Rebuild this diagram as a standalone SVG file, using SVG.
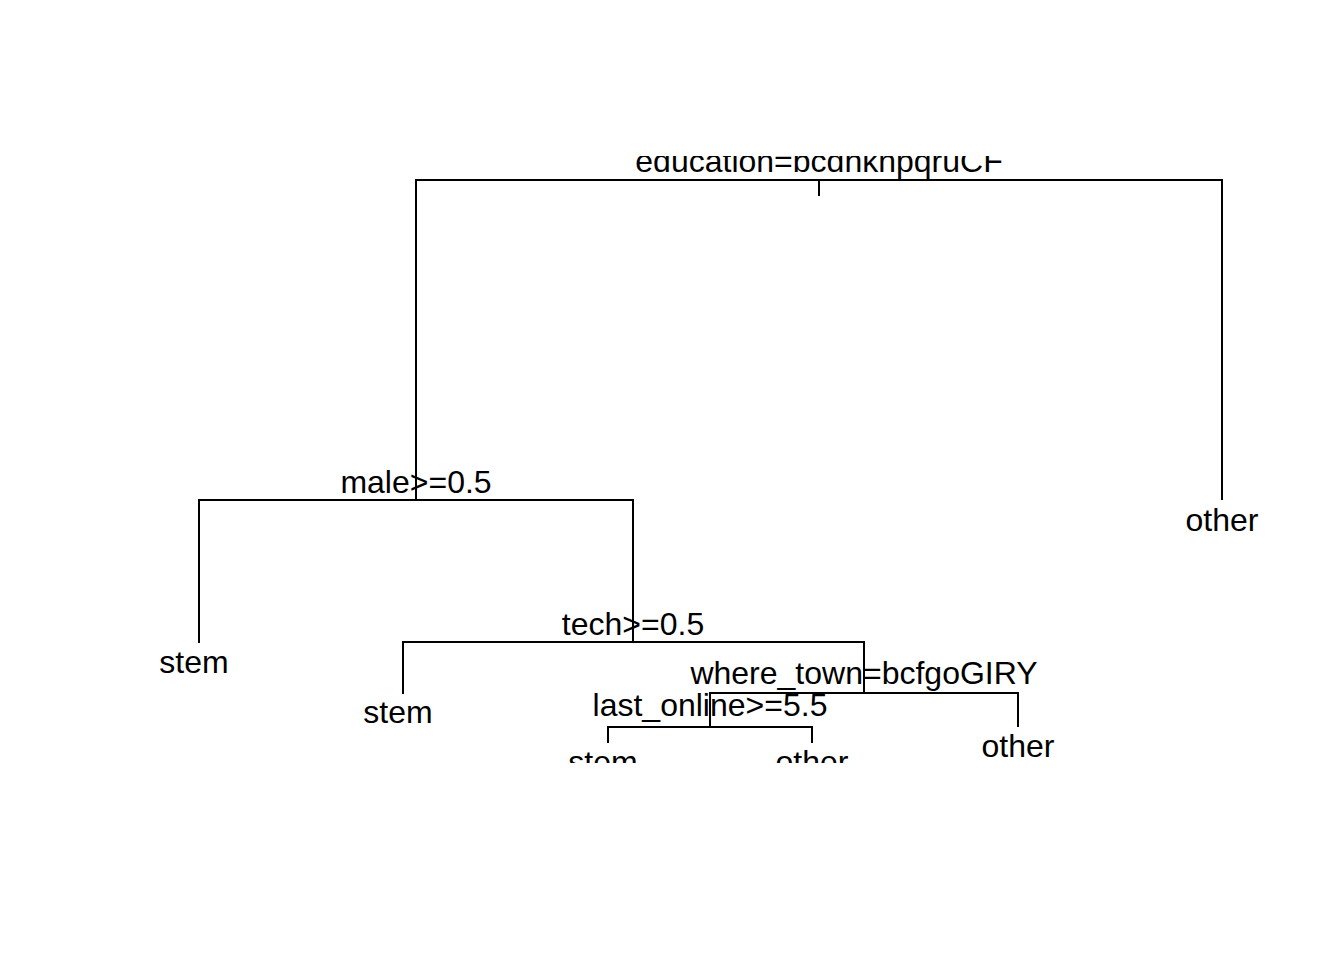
<svg xmlns="http://www.w3.org/2000/svg" width="1344" height="960" viewBox="0 0 1344 960">
<style>
.e{stroke:#000;stroke-width:2;fill:none;stroke-linecap:butt}
.t{font-family:"Liberation Sans",Arial,sans-serif;font-size:32px;fill:#000;text-anchor:middle}
</style>
<defs>
<clipPath id="plot"><rect x="157" y="156" width="1107" height="607"/></clipPath>
</defs>
<rect width="1344" height="960" fill="#fff"/>
<g clip-path="url(#plot)">
<g id="connectors">
<path class="e" d="M819 180V196M416 500V180H1222V500"/>
<path class="e" d="M199 643V500H633V642"/>
<path class="e" d="M403 694V642H864V693"/>
<path class="e" d="M710 727V693H1018V727"/>
<path class="e" d="M608 743V727H812V743"/>
</g>
<g id="n_root"><text class="t" x="819" y="172">education=bcdhknpqruCF</text></g>
<g id="n_male"><text class="t" x="416" y="493">male&gt;=0.5</text></g>
<g id="n_other1"><text class="t" x="1222" y="531">other</text></g>
<g id="n_stem1"><text class="t" x="194" y="673">stem</text></g>
<g id="n_tech"><text class="t" x="633" y="635">tech&gt;=0.5</text></g>
<g id="n_stem2"><text class="t" x="398" y="723">stem</text></g>
<g id="n_where"><text class="t" x="864" y="684">where_town=bcfgoGIRY</text></g>
<g id="n_other2"><text class="t" x="1018" y="757">other</text></g>
<g id="n_last"><text class="t" x="710" y="716">last_online&gt;=5.5</text></g>
<g id="n_stem3"><text class="t" x="603" y="773">stem</text></g>
<g id="n_other3"><text class="t" x="812" y="773">other</text></g>
</g>
</svg>
